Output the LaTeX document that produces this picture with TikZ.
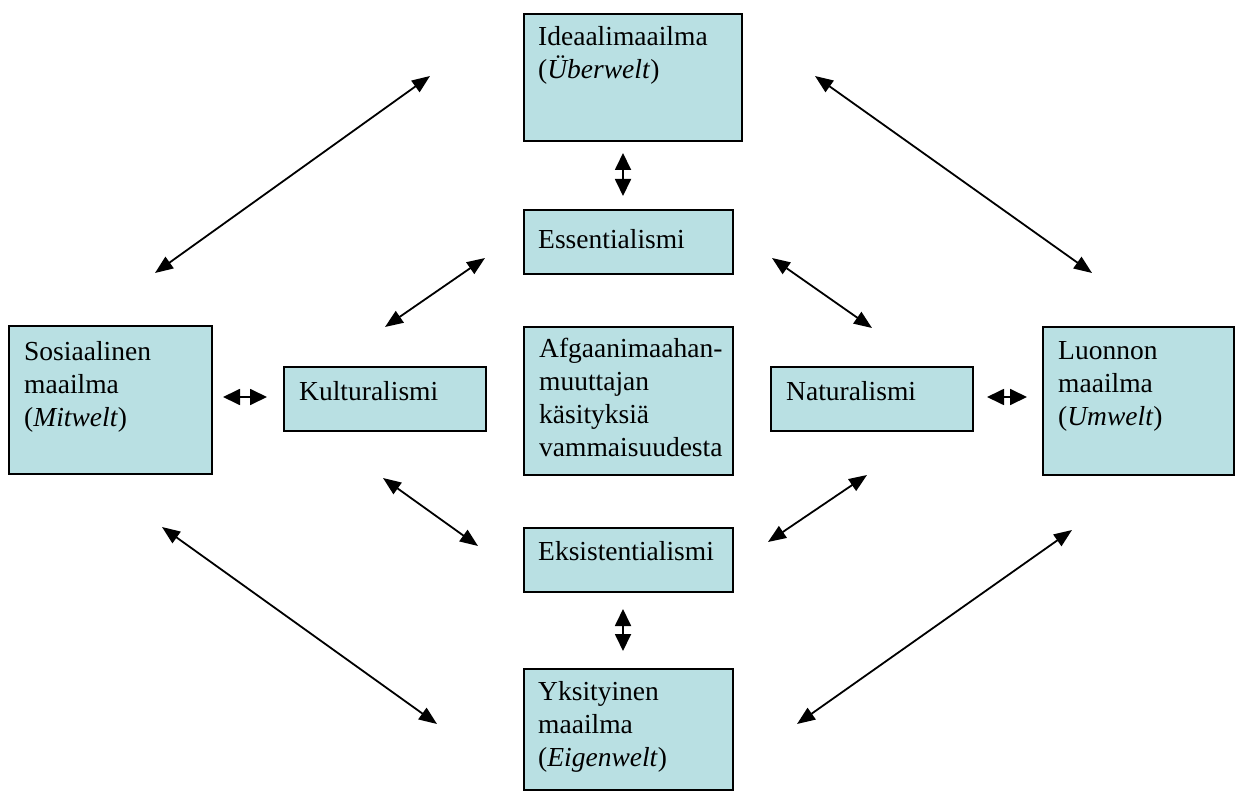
\documentclass[tikz,border=0pt]{standalone}
\usepackage{fontspec}
\setmainfont{Liberation Serif}
\usetikzlibrary{arrows.meta}
\definecolor{boxfill}{RGB}{185,224,227}
\tikzset{
  box/.style={draw=black, line width=1.8pt, fill=boxfill, rectangle, inner sep=0pt, anchor=north west},
  txt/.style={anchor=north west, align=left, inner sep=0pt, font=\fontsize{27.5}{33}\selectfont},
  longarrow/.style={line width=1.8pt, {Triangle[length=18pt,width=14pt]}-{Triangle[length=18pt,width=14pt]}},
  shortarrow/.style={line width=1.8pt, {Triangle[length=17pt,width=16pt]}-{Triangle[length=17pt,width=16pt]}},
}
% a box given by its top-left corner and size; the text's first baseline
% lies #7 below the top edge, #6 in from the left edge
\newcommand{\worldbox}[8]{%
  \node[box, minimum width=#4pt, minimum height=#5pt] (#1) at (#2,#3) {};
  \pgfmathsetmacro{\firstdrop}{#7-20}
  \node[txt] (#1-t) at ([shift={(#6pt,-\firstdrop pt)}]#1.north west) {\rule{0pt}{20pt}#8};
}
\begin{document}
\begin{tikzpicture}[x=1pt, y=-1pt]
\useasboundingbox (0,0) rectangle (1236,791);

\worldbox{ideal}{523}{13}{218}{127}{15}{32}{Ideaalimaailma\\(\textit{Überwelt})}
\worldbox{ess}{523}{209}{209}{64}{15}{39}{Essentialismi}
\worldbox{sos}{8}{325}{203}{148}{16}{35}{Sosiaalinen\\maailma\\(\textit{Mitwelt})}
\worldbox{kult}{283}{366}{202}{64}{16}{34}{Kulturalismi}
\worldbox{afg}{523}{326}{209}{148}{16}{31}{Afgaanimaahan-\\muuttajan\\käsityksiä\\vammaisuudesta}
\worldbox{nat}{770}{366}{202}{64}{16}{34}{Naturalismi}
\worldbox{luon}{1042}{326}{191}{148}{16}{33}{Luonnon\\maailma\\(\textit{Umwelt})}
\worldbox{eks}{523}{527}{209}{64}{15}{33}{Eksistentialismi}
\worldbox{yks}{523}{668}{209}{121}{15}{32}{Yksityinen\\maailma\\(\textit{Eigenwelt})}

% free ends of the connectors
\coordinate (sosU) at (155,273);   \coordinate (idealL) at (430,76);
\coordinate (idealR) at (815,76);  \coordinate (luonU) at (1092,273);
\coordinate (essL) at (485,258);   \coordinate (kultU) at (385,327);
\coordinate (essR) at (772,258);   \coordinate (natU) at (872,328);
\coordinate (kultD) at (383,478);  \coordinate (eksL) at (478,546);
\coordinate (natD) at (867,475);   \coordinate (eksR) at (768,542);
\coordinate (sosD) at (162,527);   \coordinate (yksL) at (437,724);
\coordinate (luonD) at (1072,530); \coordinate (yksR) at (797,724);
\coordinate (idealB) at (623,153); \coordinate (essT) at (623,196);
\coordinate (eksB) at (623,609);   \coordinate (yksT) at (623,651);
\coordinate (sosR) at (223,397);   \coordinate (kultL) at (267,397);
\coordinate (natR) at (987,397);   \coordinate (luonL) at (1027,397);

\draw[longarrow] (sosU) -- (idealL);
\draw[longarrow] (idealR) -- (luonU);
\draw[longarrow] (essL) -- (kultU);
\draw[longarrow] (essR) -- (natU);
\draw[longarrow] (kultD) -- (eksL);
\draw[longarrow] (natD) -- (eksR);
\draw[longarrow] (sosD) -- (yksL);
\draw[longarrow] (luonD) -- (yksR);
\draw[shortarrow] (idealB) -- (essT);
\draw[shortarrow] (eksB) -- (yksT);
\draw[shortarrow] (sosR) -- (kultL);
\draw[shortarrow] (natR) -- (luonL);
\end{tikzpicture}
\end{document}
